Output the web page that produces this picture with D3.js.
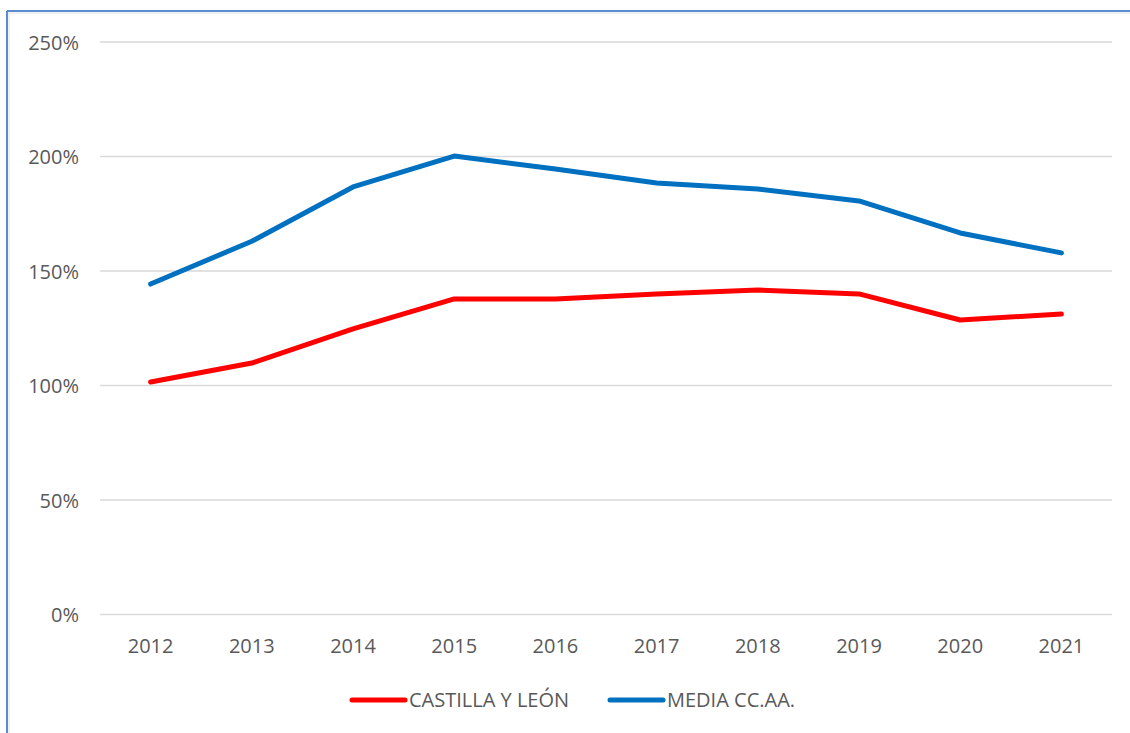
<!DOCTYPE html>
<html>
<head>
<meta charset="utf-8">
<script src="https://cdn.jsdelivr.net/npm/d3@7"></script>
<style>
  body { margin: 0; background: #fff; }
  svg text { font-family: "Open Sans", "Liberation Sans", sans-serif; fill: #595959; }
</style>
</head>
<body>
<div id="chart"></div>
<script>
const years = ['2012','2013','2014','2015','2016','2017','2018','2019','2020','2021'];
const castilla = [101.5, 109.8, 124.7, 137.8, 137.8, 140.0, 141.7, 140.0, 128.6, 131.2];
const media = [144.3, 163.0, 186.7, 200.2, 194.5, 188.4, 185.8, 180.6, 166.6, 157.9];
const yTicks = [0, 50, 100, 150, 200, 250];
const seriesNames = ['CASTILLA Y LEÓN', 'MEDIA CC.AA.'];
const seriesColors = ['#ff0000', '#0070c0'];

const w = 1130, h = 733;
const svg = d3.select('#chart').append('svg').attr('width', w).attr('height', h);

// chart frame (only top and left visible)
svg.append('line').attr('x1', 7).attr('x2', w).attr('y1', 11).attr('y2', 11)
  .attr('stroke', '#5b8bd0').attr('stroke-width', 2);
svg.append('line').attr('x1', 7).attr('x2', 7).attr('y1', 11).attr('y2', h)
  .attr('stroke', '#5b8bd0').attr('stroke-width', 2);
svg.append('line').attr('x1', 8).attr('x2', w).attr('y1', 13).attr('y2', 13)
  .attr('stroke', '#e2e2e2').attr('stroke-width', 1);
svg.append('line').attr('x1', 9).attr('x2', 9).attr('y1', 13).attr('y2', h)
  .attr('stroke', '#e2e2e2').attr('stroke-width', 1);

let xScale = d3.scaleBand().domain(years).range([100, 1112]);
let yScale = d3.scaleLinear().domain([0, 250]).range([614.5, 42]);

// gridlines
svg.append('g').selectAll('line').data(yTicks).enter().append('line')
  .attr('x1', 100).attr('x2', 1112)
  .attr('y1', d => yScale(d)).attr('y2', d => yScale(d))
  .attr('stroke', '#d9d9d9').attr('stroke-width', 1.3);

const yAxis = d3.axisLeft(yScale).tickValues(yTicks).tickFormat(d => d + '%').tickSize(0).tickPadding(0);
svg.append('g').attr('transform', 'translate(79,0)').call(yAxis)
  .call(g => g.select('.domain').remove())
  .selectAll('text').style('font-size', '20px').attr('dy', '0.35em');

const xAxis = d3.axisBottom(xScale).tickSize(0).tickPadding(0);
svg.append('g').attr('transform', 'translate(0,646)').call(xAxis)
  .call(g => g.select('.domain').remove())
  .selectAll('text').style('font-size', '20px').attr('dy', '0.35em');

const line = d3.line()
  .x((d, i) => xScale(years[i]) + xScale.bandwidth() / 2)
  .y(d => yScale(d));

[castilla, media].forEach((s, i) => {
  svg.append('path').datum(s).attr('d', line)
    .attr('fill', 'none').attr('stroke', seriesColors[i]).attr('stroke-width', 5)
    .attr('stroke-linecap', 'round').attr('stroke-linejoin', 'round');
});

// legend
const legendX = [352, 610];
seriesNames.forEach((name, i) => {
  svg.append('line').attr('x1', legendX[i]).attr('x2', legendX[i] + 53)
    .attr('y1', 700).attr('y2', 700)
    .attr('stroke', seriesColors[i]).attr('stroke-width', 5).attr('stroke-linecap', 'round');
  svg.append('text').attr('x', legendX[i] + 57).attr('y', 700).attr('dy', '0.35em')
    .style('font-size', '20px').text(name);
});
</script>
</body>
</html>
